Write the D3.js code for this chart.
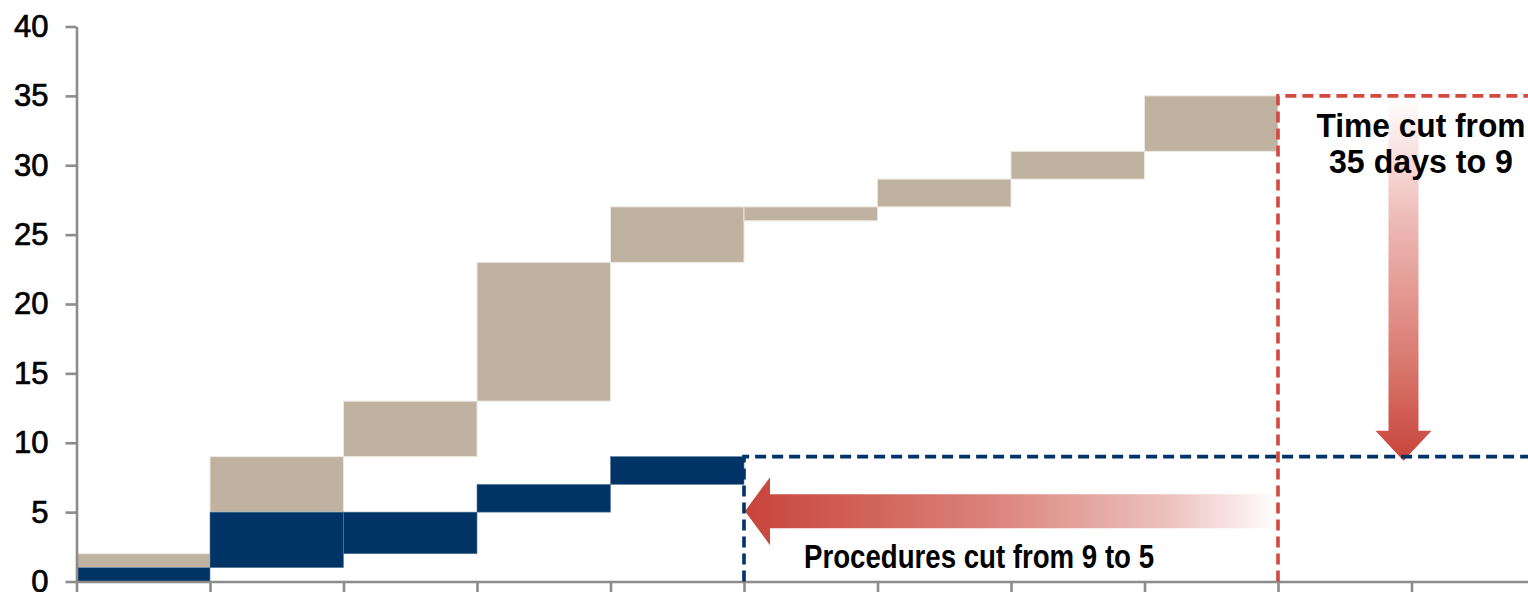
<!DOCTYPE html>
<html>
<head>
<meta charset="utf-8">
<script src="https://cdn.jsdelivr.net/npm/d3@7"></script>
<style>
  html, body { margin: 0; padding: 0; background: #fff; }
  svg { display: block; }
</style>
</head>
<body>
<svg id="chart" width="1528" height="592"></svg>
<script>
// ---- data ----
const steps = [0, 1, 2, 3, 4, 5, 6, 7, 8];            // step index (x position of each bar)
const timeLow  = [1, 5, 9, 13, 23, 26, 27, 29, 31];   // days, tan floating bars
const timeHigh = [2, 9, 13, 23, 27, 27, 29, 31, 35];
const procSteps = [0, 1, 2, 3, 4];
const procLow  = [0, 1, 2, 5, 7];                     // procedures, navy floating bars
const procHigh = [1, 5, 5, 7, 9];
const yTicks = [0, 5, 10, 15, 20, 25, 30, 35, 40];
const xTicks = [0, 1, 2, 3, 4, 5, 6, 7, 8, 9, 10];
const procBefore = 9, procAfter = 5, procAfterStep = 5;
const timeBefore = 35, timeAfter = 9, timeBeforeStep = 9;
const timeLabel = ["Time cut from", "35 days to 9"];
const procLabel = "Procedures cut from 9 to 5";

// ---- scales ----
const svg = d3.select("#chart");
const x = d3.scaleLinear().domain([0, 11]).range([76.5, 76.5 + 11 * 133.5]);
const y = d3.scaleLinear().domain([0, 40]).range([581.5, 26.5]);

const TAN = "#BFB2A0", NAVY = "#003366", RED = "#D4493E", AXIS = "#8c8c8c";
const FONT = "'Liberation Sans', Arial, Helvetica, sans-serif";

// gradients
const defs = svg.append("defs");
const gh = defs.append("linearGradient").attr("id", "gh").attr("x1", "0%").attr("x2", "100%").attr("y1", "0%").attr("y2", "0%");
[[0, "#C8443A"], [0.45, "#DA8179"], [0.8, "#EDC4C0"], [1, "#FFFFFF"]].forEach(([o, c]) => gh.append("stop").attr("offset", o).attr("stop-color", c));
const gv = defs.append("linearGradient").attr("id", "gv").attr("x1", "0%").attr("x2", "0%").attr("y1", "0%").attr("y2", "100%");
[[0, "#FFFFFF"], [0.35, "#EDB8B4"], [0.7, "#DB7E75"], [1, "#C8443A"]].forEach(([o, c]) => gv.append("stop").attr("offset", o).attr("stop-color", c));

// ---- bars ----
svg.append("g").selectAll("rect").data(steps).join("rect")
  .attr("x", i => x(i)).attr("width", i => x(i + 1) - x(i))
  .attr("y", i => y(timeHigh[i])).attr("height", i => y(timeLow[i]) - y(timeHigh[i]))
  .attr("fill", TAN).attr("stroke", "#ece7df").attr("stroke-width", 1);

svg.append("g").selectAll("rect").data(procSteps).join("rect")
  .attr("x", i => x(i)).attr("width", i => x(i + 1) - x(i))
  .attr("y", i => y(procHigh[i])).attr("height", i => y(procLow[i]) - y(procHigh[i]))
  .attr("fill", NAVY).attr("stroke", "#5a7a9c").attr("stroke-width", 0.6);

// ---- axes ----
const yAxis = svg.append("g").attr("transform", `translate(${x(0)},0)`)
  .call(d3.axisLeft(y).tickValues(yTicks).tickSize(11).tickSizeOuter(0).tickPadding(17));
yAxis.select(".domain").attr("stroke", AXIS).attr("stroke-width", 2.6);
yAxis.selectAll(".tick line").attr("stroke", AXIS).attr("stroke-width", 2.6);
yAxis.selectAll(".tick text").attr("font-family", FONT).attr("font-size", 31).attr("fill", "#000")
  .attr("stroke", "#000").attr("stroke-width", 0.7);

const xAxis = svg.append("g").attr("transform", `translate(0,${y(0)})`)
  .call(d3.axisBottom(x).tickValues(xTicks).tickFormat("").tickSize(14).tickSizeOuter(0));
xAxis.select(".domain").attr("stroke", AXIS).attr("stroke-width", 2.6);
xAxis.selectAll(".tick line").attr("stroke", AXIS).attr("stroke-width", 2.6);

// ---- arrows ----
// vertical arrow (time cut)
const vx = x(9.94), vTop = y(timeBefore) + 2, vTip = y(timeAfter) + 4;
const vShaft = 15, vHead = 28, vHeadH = 30;
svg.append("path")
  .attr("d", `M${vx - vShaft},${vTop} L${vx + vShaft},${vTop} L${vx + vShaft},${vTip - vHeadH} L${vx + vHead},${vTip - vHeadH} L${vx},${vTip} L${vx - vHead},${vTip - vHeadH} L${vx - vShaft},${vTip - vHeadH} Z`)
  .attr("fill", "url(#gv)");

// horizontal arrow (procedures cut)
const hy = y(procAfter) - 1, hTip = x(procAfterStep) + 1, hEnd = x(timeBeforeStep) + 2;
const hShaft = 17, hHead = 34, hHeadW = 25;
svg.append("path")
  .attr("d", `M${hTip},${hy} L${hTip + hHeadW},${hy - hHead} L${hTip + hHeadW},${hy - hShaft} L${hEnd},${hy - hShaft} L${hEnd},${hy + hShaft} L${hTip + hHeadW},${hy + hShaft} L${hTip + hHeadW},${hy + hHead} Z`)
  .attr("fill", "url(#gh)");

// ---- dashed guide lines ----
svg.append("path")
  .attr("d", `M${x(procAfterStep)},${y(0)} L${x(procAfterStep)},${y(procBefore)} L1528,${y(procBefore)}`)
  .attr("fill", "none").attr("stroke", NAVY).attr("stroke-width", 3.6).attr("stroke-dasharray", "11,6");
svg.append("path")
  .attr("d", `M${x(timeBeforeStep)},${y(0)} L${x(timeBeforeStep)},${y(timeBefore)} L1528,${y(timeBefore)}`)
  .attr("fill", "none").attr("stroke", RED).attr("stroke-width", 3.6).attr("stroke-dasharray", "11,6");

// ---- annotation text ----
const tt = svg.append("text").attr("font-family", FONT).attr("font-weight", "bold").attr("font-size", 33)
  .attr("text-anchor", "middle").attr("fill", "#000");
tt.selectAll("tspan").data(timeLabel).join("tspan")
  .attr("x", 1421).attr("y", (d, i) => 137 + i * 36)
  .attr("textLength", (d, i) => i === 0 ? 209 : 184).attr("lengthAdjust", "spacingAndGlyphs")
  .text(d => d);

svg.append("text").attr("font-family", FONT).attr("font-weight", "bold").attr("font-size", 33)
  .attr("text-anchor", "middle").attr("fill", "#000")
  .attr("x", 979).attr("y", 568)
  .attr("textLength", 350).attr("lengthAdjust", "spacingAndGlyphs")
  .text(procLabel);
</script>
</body>
</html>
